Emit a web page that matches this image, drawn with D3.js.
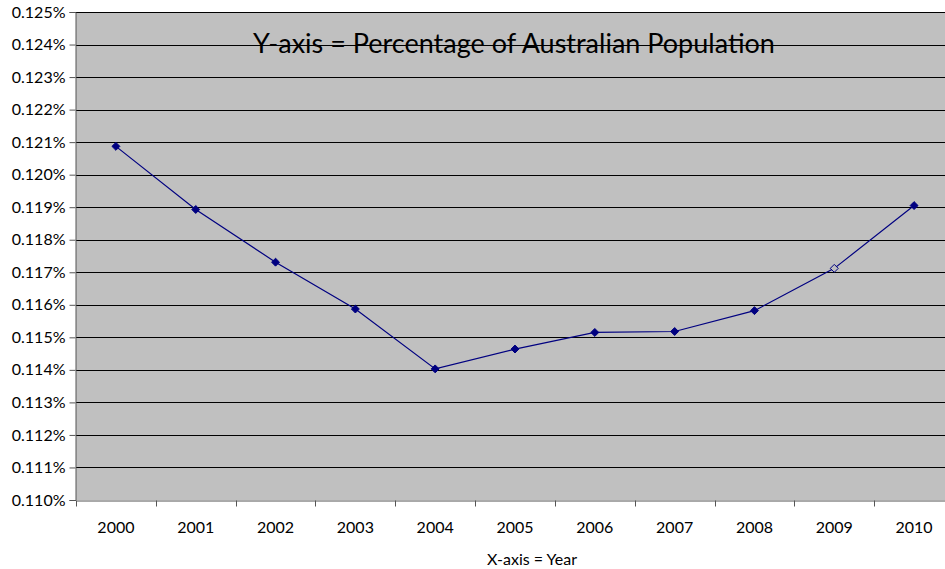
<!DOCTYPE html>
<html>
<head>
<meta charset="utf-8">
<script src="https://cdn.jsdelivr.net/npm/d3@7"></script>
<style>
  body { margin: 0; background: #fff; }
  svg text { font-family: Lato, "Open Sans", sans-serif; fill: #000; }
</style>
</head>
<body>
<script>
//chart data
var years = ["2000", "2001", "2002", "2003", "2004", "2005", "2006", "2007", "2008", "2009", "2010"];
var shares = [0.12087, 0.11893, 0.11731, 0.11587, 0.11403, 0.11464, 0.11515, 0.11518, 0.11582, 0.11712, 0.11905];
var hollowYears = ["2009"];
var yTicks = [0.110, 0.111, 0.112, 0.113, 0.114, 0.115, 0.116, 0.117, 0.118, 0.119, 0.120, 0.121, 0.122, 0.123, 0.124, 0.125];

window.onload = drawChart();

function drawChart(){
    var width = 945,
        height = 569;

    //plot area (runs past the right edge, as in the original)
    var left = 76, top = 12, bottom = 500, right = 954;

    var svg = d3.select("body")
        .append("svg")
        .attr("width", width)
        .attr("height", height);

    var x = d3.scaleBand()
        .domain(years)
        .range([left, right]);

    var y = d3.scaleLinear()
        .domain([0.110, 0.125])
        .range([bottom, top]);

    //grey plot background
    svg.append("rect")
        .attr("x", left)
        .attr("y", top)
        .attr("width", right - left)
        .attr("height", bottom - top)
        .attr("fill", "#c0c0c0");

    //horizontal gridlines
    svg.selectAll(".grid")
        .data(yTicks.slice(1))
        .enter()
        .append("line")
        .attr("class", "grid")
        .attr("x1", left)
        .attr("x2", right)
        .attr("y1", function(d){ return Math.round(y(d)) + 0.5; })
        .attr("y2", function(d){ return Math.round(y(d)) + 0.5; })
        .attr("stroke", "#000")
        .attr("stroke-width", 1);

    //title inside the plot
    svg.append("text")
        .attr("x", 514)
        .attr("y", 53)
        .attr("text-anchor", "middle")
        .style("font-size", "27px")
        .text("Y-axis = Percentage of Australian Population");

    //y axis
    var yAxis = d3.axisLeft(y)
        .tickValues(yTicks)
        .tickSize(6)
        .tickFormat(function(d){ return (d).toFixed(3) + "%"; });

    var yg = svg.append("g")
        .attr("transform", "translate(" + (left - 0.5) + ",0)")
        .call(yAxis);
    yg.selectAll("text").style("font-size", "16px").attr("dx", "-1");
    yg.select(".domain").attr("stroke", "#555");
    yg.selectAll(".tick line").attr("stroke", "#555");

    //x axis, ticks between categories
    var xAxis = d3.axisBottom(x)
        .tickSize(0)
        .tickPadding(21);

    var xg = svg.append("g")
        .attr("transform", "translate(0," + (bottom + 0.5) + ")")
        .call(xAxis);
    xg.selectAll("text").style("font-size", "16px");
    xg.select(".domain").attr("stroke", "#555");

    xg.selectAll(".sep")
        .data(years)
        .enter()
        .append("line")
        .attr("class", "sep")
        .attr("x1", function(d){ return Math.round(x(d)) + 0.5; })
        .attr("x2", function(d){ return Math.round(x(d)) + 0.5; })
        .attr("y1", 0)
        .attr("y2", 6)
        .attr("stroke", "#555");

    svg.append("text")
        .attr("x", 532)
        .attr("y", 565)
        .attr("text-anchor", "middle")
        .style("font-size", "16px")
        .text("X-axis = Year");

    //series line
    var line = d3.line()
        .x(function(d, i){ return x(years[i]) + x.bandwidth() / 2; })
        .y(function(d){ return y(d); });

    svg.append("path")
        .datum(shares)
        .attr("d", line)
        .attr("fill", "none")
        .attr("stroke", "#000080")
        .attr("stroke-width", 1.2);

    //diamond markers
    var diamond = d3.symbol().type(d3.symbolDiamond2).size(40);

    svg.selectAll(".marker")
        .data(shares)
        .enter()
        .append("path")
        .attr("class", "marker")
        .attr("d", diamond)
        .attr("transform", function(d, i){
            return "translate(" + (x(years[i]) + x.bandwidth() / 2) + "," + y(d) + ")";
        })
        .attr("fill", function(d, i){
            return hollowYears.indexOf(years[i]) >= 0 ? "#c0c0c0" : "#000080";
        })
        .attr("stroke", "#000080")
        .attr("stroke-width", 1);
}
</script>
</body>
</html>
